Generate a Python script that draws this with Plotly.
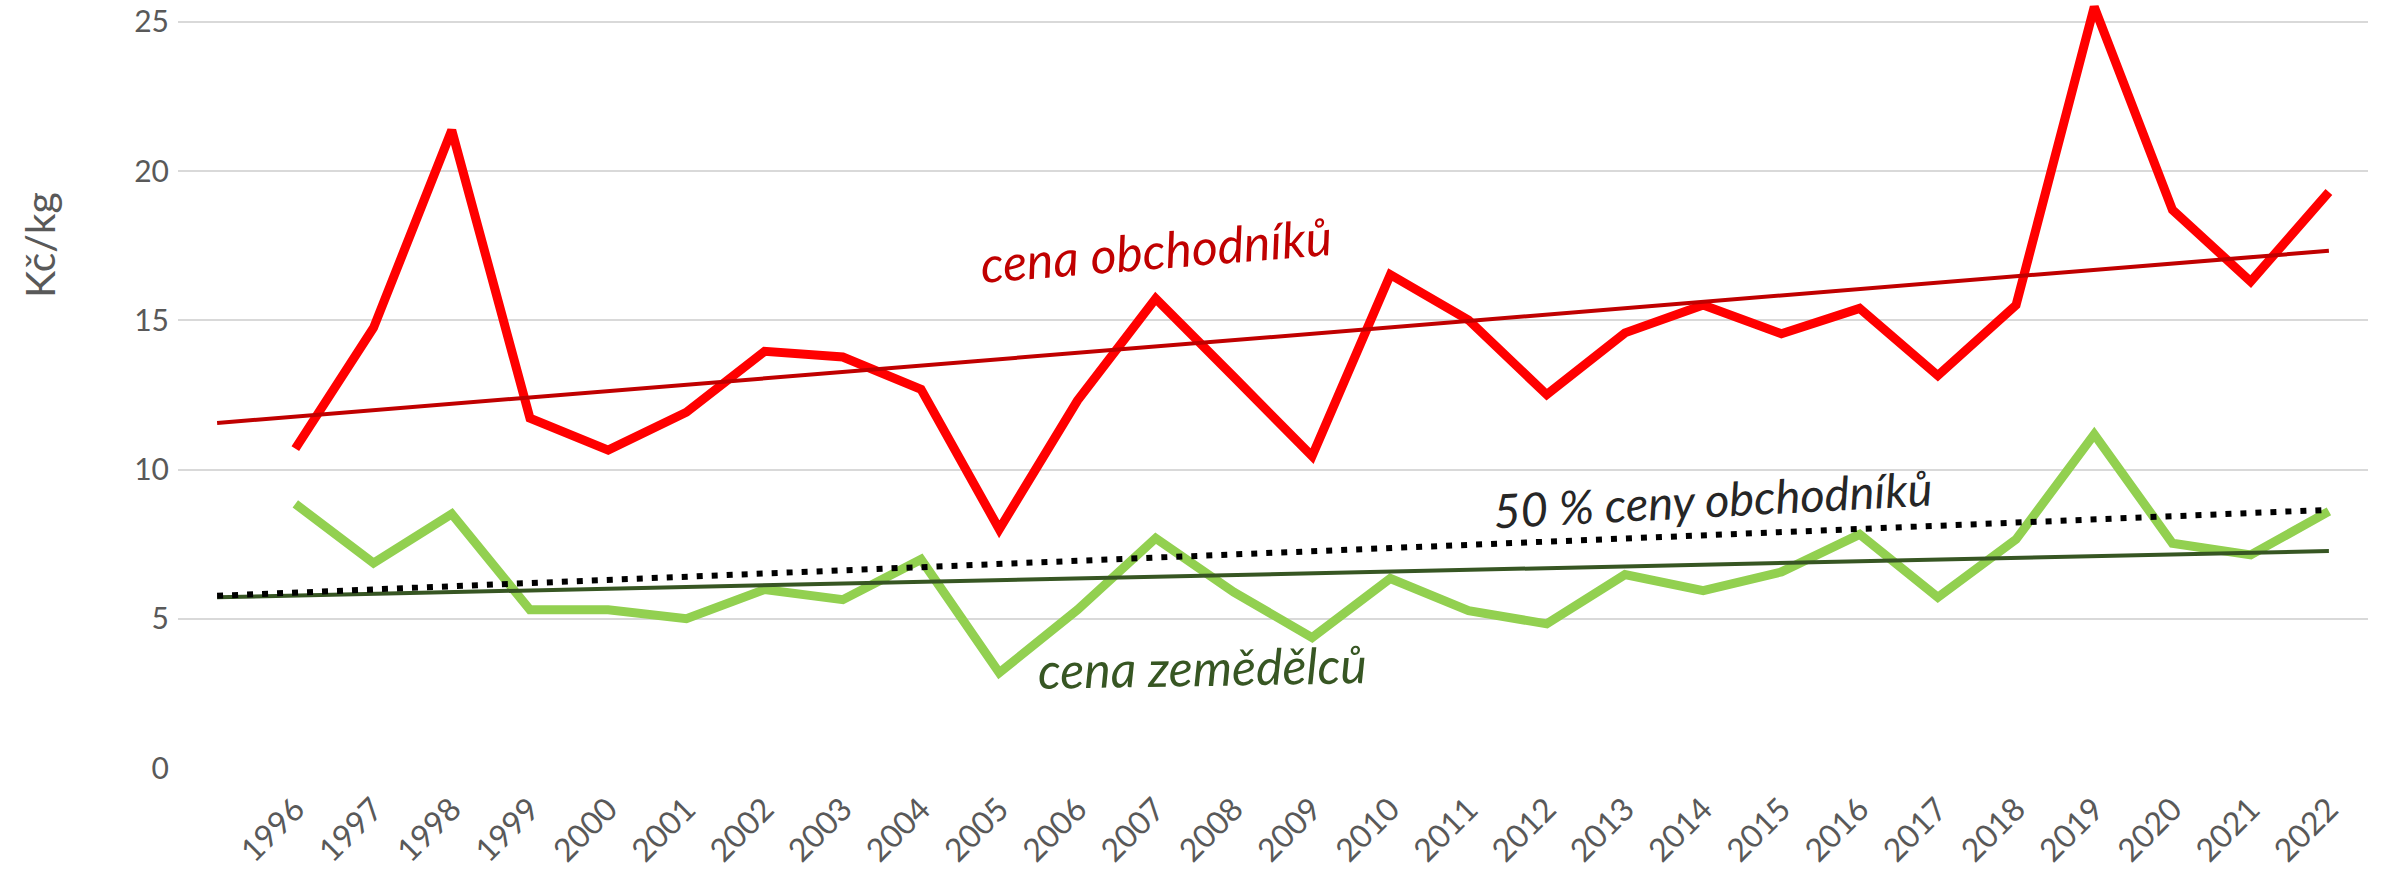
import plotly.graph_objects as go

years = list(range(1996, 2023))
cena_obchodniku = [10.70, 14.75, 21.37, 11.72, 10.65, 11.92, 13.96, 13.77, 12.69, 8.00,
                   12.31, 15.73, 13.10, 10.45, 16.53, 15.01, 12.51, 14.58, 15.51, 14.55,
                   15.40, 13.15, 15.51, 25.50, 18.70, 16.30, 19.30]
cena_zemedelcu = [8.85, 6.87, 8.51, 5.30, 5.30, 5.00, 5.98, 5.64, 6.99, 3.19,
                  5.30, 7.70, 5.89, 4.37, 6.35, 5.27, 4.83, 6.48, 5.94, 6.57,
                  7.83, 5.72, 7.66, 11.18, 7.53, 7.14, 8.60]
trend_x = [1995, 2022]
trend_obchodniku = [11.56, 17.33]
trend_zemedelcu = [5.72, 7.27]
trend_50pct = [5.77, 8.65]
tick_years = [str(y) for y in years]
y_ticks = [0, 5, 10, 15, 20, 25]

fig = go.Figure()
fig.add_trace(go.Scatter(x=years, y=cena_obchodniku, mode="lines",
                         line=dict(color="#FF0000", width=9), showlegend=False))
fig.add_trace(go.Scatter(x=years, y=cena_zemedelcu, mode="lines",
                         line=dict(color="#92D050", width=9), showlegend=False))
fig.add_trace(go.Scatter(x=trend_x, y=trend_obchodniku, mode="lines",
                         line=dict(color="#C00000", width=4), showlegend=False))
fig.add_trace(go.Scatter(x=trend_x, y=trend_zemedelcu, mode="lines",
                         line=dict(color="#375623", width=4), showlegend=False))
fig.add_trace(go.Scatter(x=trend_x, y=trend_50pct, mode="lines",
                         line=dict(color="#000000", width=6, dash="6px,9px"), showlegend=False))

ann_font = dict(family="Lato", style="italic")
fig.add_annotation(x=2007.0, y=17.35, text="cena obchodníků", showarrow=False,
                   textangle=-4.6, font=dict(size=50, color="#C00000", **ann_font))
fig.add_annotation(x=2007.6, y=3.4, text="cena zemědělců", showarrow=False,
                   textangle=-1, font=dict(size=50, color="#375623", **ann_font))
fig.add_annotation(x=2014.13, y=9.0, text="50 % ceny obchodníků", showarrow=False,
                   textangle=-3, font=dict(size=47, color="#262626", **ann_font))
fig.add_annotation(xref="paper", yref="paper", x=-0.063, y=0.682, text="Kč/kg",
                   showarrow=False, textangle=-90, xanchor="center", yanchor="middle",
                   font=dict(family="Lato", size=41, color="#595959"))

fig.update_layout(
    width=2385, height=872,
    margin=dict(l=178, r=17, t=1, b=104, autoexpand=False),
    paper_bgcolor="white", plot_bgcolor="white",
    font=dict(family="Lato", color="#595959"),
)
fig.update_xaxes(range=[1994.5, 2022.5], tickvals=years, ticktext=tick_years,
                 tickangle=-45, tickfont=dict(family="Lato", size=32, color="#595959"),
                 showgrid=False, zeroline=False, showline=False, ticks="",
                 ticklabelstandoff=15, automargin=False, ticklabeloverflow="allow")
fig.update_yaxes(range=[0, 25.7], tickvals=y_ticks, showgrid=True,
                 gridcolor="#D9D9D9", gridwidth=2, zeroline=False, showline=False,
                 tickfont=dict(family="Lato", size=30, color="#595959"), ticks="",
                 ticklabelstandoff=8, automargin=False, ticklabeloverflow="allow")

fig.write_html("out.html", config={"displayModeBar": False},
               post_script="document.body.style.margin='0';")
